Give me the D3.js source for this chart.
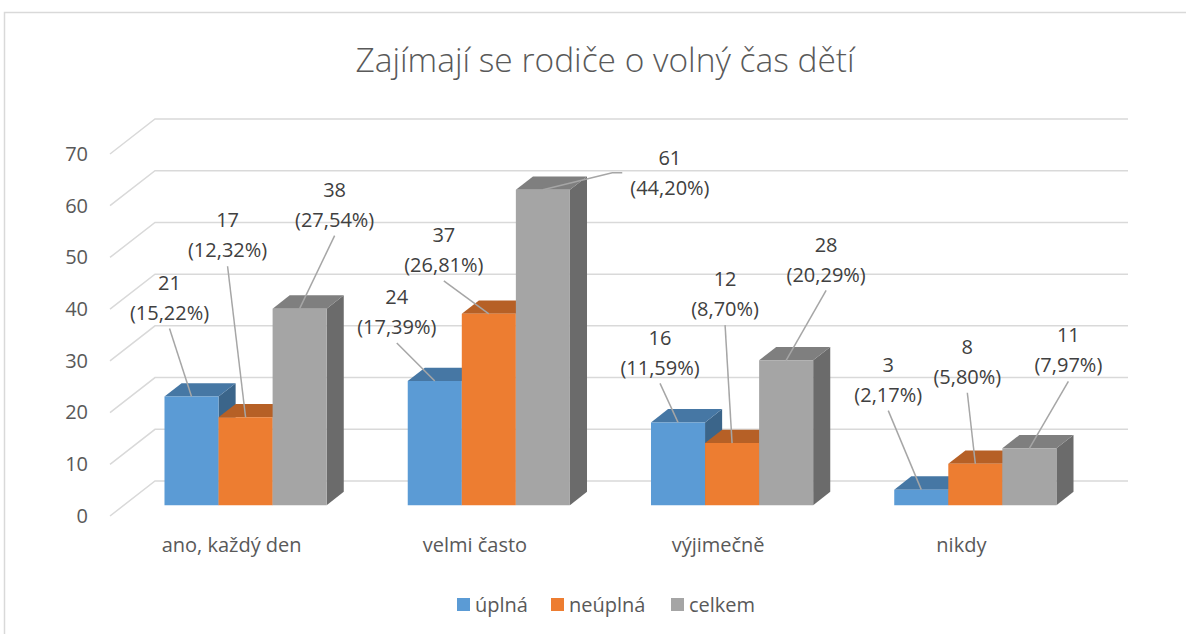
<!DOCTYPE html>
<html>
<head>
<meta charset="utf-8">
<script src="https://cdn.jsdelivr.net/npm/d3@7"></script>
<style>
  html, body { margin: 0; padding: 0; background: #fff; }
  svg { display: block; }
</style>
</head>
<body>
<script>
// chart values
const categories = ["ano, každý den", "velmi často", "výjimečně", "nikdy"];
const seriesNames = ["úplná", "neúplná", "celkem"];
const uplna = [21, 24, 16, 3];
const neuplna = [17, 37, 12, 8];
const celkem = [38, 61, 28, 11];
const uplnaPct = ["15,22%", "17,39%", "11,59%", "2,17%"];
const neuplnaPct = ["12,32%", "26,81%", "8,70%", "5,80%"];
const celkemPct = ["27,54%", "44,20%", "20,29%", "7,97%"];
const yTicks = [0, 10, 20, 30, 40, 50, 60, 70];

// manual label placement (offset of label centre from the bar's top edge), per series
const labelOffsets = [
  [[-22, -99], [-38, -69], [-18, -70], [-33, -110]],
  [[-18, -182], [-45, -64], [-7, -149], [-8, -102]],
  [[35, -104], [127, -17], [40, -101], [39, -98]]
];

const colors = ["#5b9bd5", "#ed7d31", "#a5a5a5"];
const W = 1186, H = 634;

const svg = d3.select("body").append("svg")
  .attr("width", W).attr("height", H)
  .style("font-family", "'Open Sans', sans-serif");

// chart area border (only top and left edges are inside the frame)
svg.append("rect")
  .attr("x", 4.5).attr("y", 12.5).attr("width", 1300).attr("height", 800)
  .attr("fill", "none").attr("stroke", "#d9d9d9").attr("stroke-width", 1.5);

svg.append("text")
  .attr("x", 605).attr("y", 72)
  .attr("text-anchor", "middle")
  .attr("font-size", 33.5).attr("font-weight", 300)
  .attr("fill", "#595959")
  .text("Zajímají se rodiče o volný čas dětí");

// oblique projection: z = 0 front of floor, z = 1 back wall
const depth = { dx: 45, dy: 35 };
const zFront = 0.31, zBack = 0.69;

const x0 = d3.scaleBand().domain(categories).range([110, 1083]);
const x1 = d3.scaleBand().domain(seriesNames).range([0, x0.bandwidth()]).paddingOuter(0.75);
const y = d3.scaleLinear().domain([0, 70]).range([516, 154]);
const proj = (x, v, z) => [x + z * depth.dx, y(v) - z * depth.dy];

// gridlines: left wall diagonals + back wall horizontals
const [xMin, xMax] = x0.range();
svg.append("g").selectAll("path").data(yTicks).join("path")
  .attr("d", t => d3.line()([proj(xMin, t, 0), proj(xMin, t, 1), proj(xMax, t, 1)]))
  .attr("fill", "none").attr("stroke", "#d9d9d9").attr("stroke-width", 1.5);

// value axis labels
svg.append("g")
  .attr("transform", `translate(${xMin},0)`)
  .call(d3.axisLeft(y).tickValues(yTicks).tickSize(0).tickPadding(22))
  .call(g => g.select(".domain").remove())
  .call(g => g.selectAll("text").attr("font-size", 20).attr("fill", "#595959")
    .attr("font-family", "'Open Sans', sans-serif"));

// category labels
svg.append("g")
  .attr("transform", `translate(0,${y(0)})`)
  .call(d3.axisBottom(x0).tickSize(0).tickPadding(22))
  .call(g => g.select(".domain").remove())
  .call(g => g.selectAll("text").attr("font-size", 20).attr("fill", "#595959")
    .attr("font-family", "'Open Sans', sans-serif"));

const seriesValues = [uplna, neuplna, celkem];
const seriesPct = [uplnaPct, neuplnaPct, celkemPct];

const bars = [];
categories.forEach((cat, i) => {
  seriesNames.forEach((s, j) => {
    const xl = x0(cat) + x1(s);
    const xr = xl + x1.bandwidth();
    const v = seriesValues[j][i];
    bars.push({ i, j, xl, xr, v });
  });
});

const poly = pts => d3.line()(pts) + "Z";
const gBars = svg.append("g");
bars.forEach(b => {
  const c = d3.color(colors[b.j]);
  const shade = k => d3.rgb(c.r * k, c.g * k, c.b * k).formatHex();
  // side face
  gBars.append("path")
    .attr("d", poly([proj(b.xr, 0, zFront), proj(b.xr, 0, zBack), proj(b.xr, b.v, zBack), proj(b.xr, b.v, zFront)]))
    .attr("fill", shade(0.65));
  // top face
  gBars.append("path")
    .attr("d", poly([proj(b.xl, b.v, zFront), proj(b.xr, b.v, zFront), proj(b.xr, b.v, zBack), proj(b.xl, b.v, zBack)]))
    .attr("fill", shade(0.77));
  // front face
  gBars.append("path")
    .attr("d", poly([proj(b.xl, 0, zFront), proj(b.xr, 0, zFront), proj(b.xr, b.v, zFront), proj(b.xl, b.v, zFront)]))
    .attr("fill", colors[b.j]);
});

// data labels with leader lines
const gLabels = svg.append("g");
bars.forEach(b => {
  const anchor = proj((b.xl + b.xr) / 2, b.v, zFront);
  const [ox, oy] = labelOffsets[b.j][b.i];
  const cx = anchor[0] + ox, cy = anchor[1] + oy;

  const t = gLabels.append("text")
    .attr("text-anchor", "middle")
    .attr("font-size", 20).attr("fill", "#404040");
  t.append("tspan").attr("x", cx).attr("y", cy - 15).attr("dy", "0.36em").text(b.v);
  t.append("tspan").attr("x", cx).attr("y", cy + 15).attr("dy", "0.36em").text(`(${seriesPct[b.j][b.i]})`);

  const bb = t.node().getBBox();
  const bottom = cy + 31;
  let pts;
  if (anchor[1] > bottom) {
    pts = [[cx, bottom], anchor];
  } else {
    const left = bb.x - 8;
    pts = [[left, cy], [left - 10, cy], anchor];
  }
  gLabels.insert("path", "text")
    .attr("d", d3.line()(pts))
    .attr("fill", "none").attr("stroke", "#a6a6a6").attr("stroke-width", 1.5);
});

// legend
const legendX = [457, 551, 671];
const legend = svg.append("g").selectAll("g").data(seriesNames).join("g")
  .attr("transform", (d, k) => `translate(${legendX[k]},598)`);
legend.append("rect").attr("width", 13).attr("height", 13).attr("fill", (d, k) => colors[k]);
legend.append("text")
  .attr("x", 18).attr("y", 6.5).attr("dy", "0.36em")
  .attr("font-size", 20).attr("fill", "#595959")
  .text(d => d);
</script>
</body>
</html>
